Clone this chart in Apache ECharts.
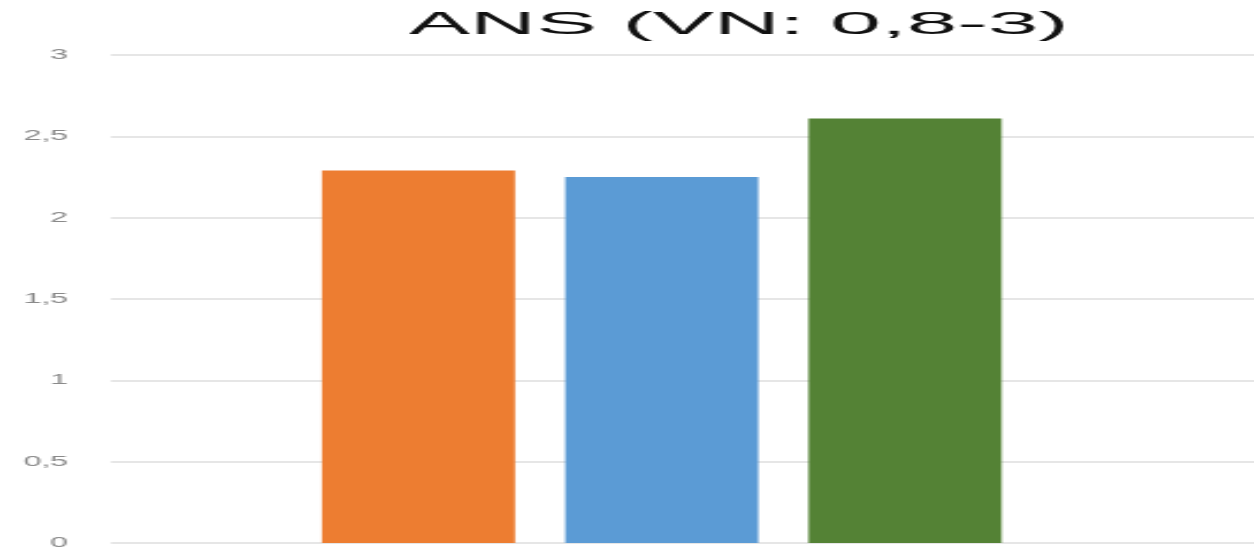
<!DOCTYPE html>
<html>
<head>
<meta charset="utf-8">
<script src="https://cdn.jsdelivr.net/npm/echarts@6/dist/echarts.min.js"></script>
<style>
  html, body { margin: 0; padding: 0; background: #ffffff; overflow: hidden; }
  #wrap { width: 1254px; height: 552px; overflow: hidden; }
  #chart { width: 545px; height: 552px; transform: scaleX(2.30092); transform-origin: 0 0; }
</style>
</head>
<body>
<div id="wrap"><div id="chart"></div></div>
<script>
const titleText = 'ANS (VN: 0,8-3)';
const categories = ['1', '2', '3'];
const values = [2.29, 2.25, 2.61];
const barColors = ['#ED7D31', '#5B9BD5', '#548235'];
const yTicks = { min: 0, max: 3, interval: 0.5 };

const chart = echarts.init(document.getElementById('chart'));
chart.setOption({
  animation: false,
  backgroundColor: '#ffffff',
  graphic: [{
    type: 'text',
    x: 321.2,
    y: 25,
    scaleX: 1.28,
    style: {
      text: titleText,
      fontFamily: 'Liberation Sans, Arial, sans-serif',
      fontSize: 31,
      fill: '#111111',
      align: 'center',
      verticalAlign: 'middle'
    }
  }],
  grid: [
    { left: 48.2, right: 0, top: 55, bottom: 9 },
    { left: 129, width: 317.2, top: 55, bottom: 9 }
  ],
  xAxis: [
    { type: 'category', gridIndex: 0, data: [''], show: false },
    { type: 'category', gridIndex: 1, data: categories, show: false }
  ],
  yAxis: [
    {
      type: 'value', gridIndex: 0, min: yTicks.min, max: yTicks.max, interval: yTicks.interval,
      axisLine: { show: false }, axisTick: { show: false },
      splitLine: { lineStyle: { color: '#e6e6e6', width: 2 } },
      axisLabel: {
        margin: 18.6, color: '#8a8a8a', fontSize: 14,
        fontFamily: 'Liberation Sans, Arial, sans-serif',
        formatter: v => String(v).replace('.', ',')
      }
    },
    {
      type: 'value', gridIndex: 1, min: yTicks.min, max: yTicks.max, interval: yTicks.interval,
      show: false, splitLine: { show: false }
    }
  ],
  series: [{
    type: 'bar',
    xAxisIndex: 1,
    yAxisIndex: 1,
    barWidth: 83.9,
    data: values.map((v, i) => ({ value: v, itemStyle: { color: barColors[i] } }))
  }]
});
</script>
</body>
</html>
